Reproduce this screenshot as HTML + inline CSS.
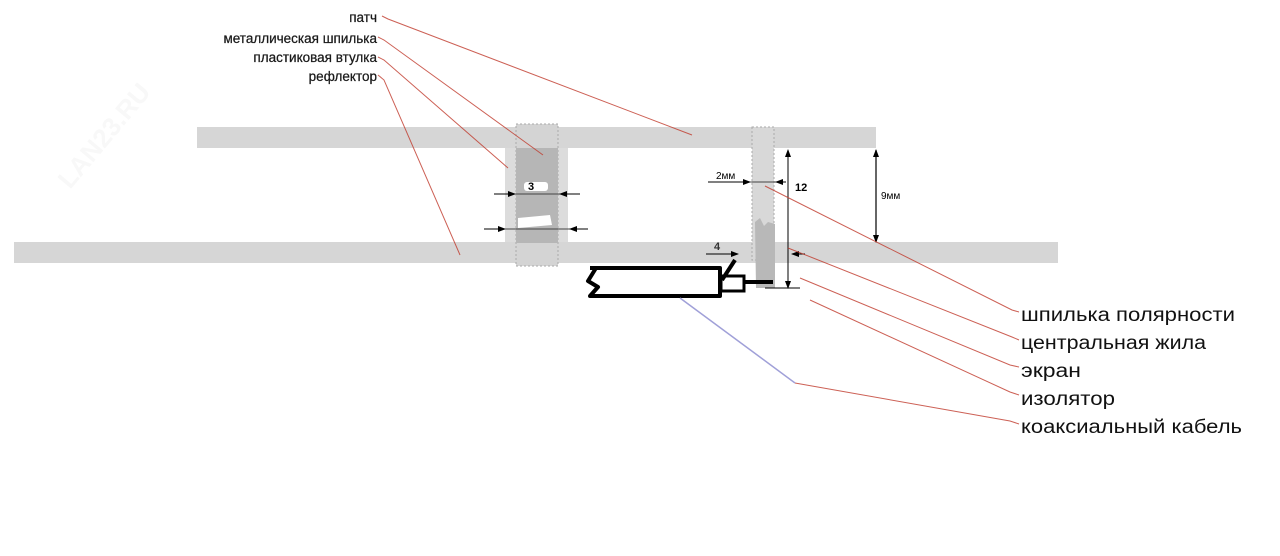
<!DOCTYPE html>
<html><head><meta charset="utf-8"><style>
html,body{margin:0;padding:0;background:#fff;}
svg{display:block;}
text{font-family:"Liberation Sans","DejaVu Sans",sans-serif;}
</style></head><body>
<svg width="1280" height="556" viewBox="0 0 1280 556" xmlns="http://www.w3.org/2000/svg">
<defs>
<marker id="ah" markerWidth="8" markerHeight="8" refX="7" refY="4" orient="auto" markerUnits="userSpaceOnUse"><path d="M0,1 L8,4 L0,7 Z" fill="#000"/></marker>
</defs>
<text x="70" y="190" transform="rotate(-50 70 190)" font-size="26" font-weight="bold" fill="#f8f8f8">LAN23.RU</text>
<!-- bars -->
<rect x="197" y="127" width="679" height="21" fill="#d6d6d6"/>
<rect x="14" y="242" width="1044" height="21" fill="#d6d6d6"/>
<!-- left bushing -->
<rect x="505" y="148" width="63" height="94" fill="#dcdcdc"/>
<rect x="516" y="124" width="42" height="142" fill="#d4d4d4" stroke="#aaa" stroke-dasharray="2,2" stroke-width="1"/>
<rect x="516" y="148" width="42" height="95" fill="#b6b6b6"/>
<rect x="524" y="182" width="24" height="9" rx="3" fill="#fff"/>
<path d="M518,218 L550,215 L552,225 L518,228Z" fill="#fff"/>
<text x="528" y="190" font-size="11" font-weight="bold">3</text>
<line x1="494" y1="194" x2="515" y2="194" stroke="#000" marker-end="url(#ah)"/>
<line x1="515" y1="194" x2="560" y2="194" stroke="#444"/>
<line x1="580" y1="194" x2="560" y2="194" stroke="#000" marker-end="url(#ah)"/>
<line x1="484" y1="229" x2="505" y2="229" stroke="#000" marker-end="url(#ah)"/>
<line x1="505" y1="229" x2="570" y2="229" stroke="#444"/>
<line x1="588" y1="229" x2="570" y2="229" stroke="#000" marker-end="url(#ah)"/>
<!-- right pin -->
<rect x="752" y="127" width="22" height="133" fill="#d8d8d8" stroke="#aaa" stroke-dasharray="2,2"/>
<path d="M755,222 L760,218 L764,226 L768,222 L775,224 L775,288 L756,288 Z" fill="#b8b8b8"/>
<line x1="708" y1="182" x2="750" y2="182" stroke="#000" marker-end="url(#ah)"/>
<line x1="750" y1="182" x2="776" y2="182" stroke="#444"/>
<line x1="786" y1="182" x2="776" y2="182" stroke="#000" marker-end="url(#ah)"/>
<text x="716" y="179" font-size="10">2мм</text>
<line x1="788" y1="218" x2="788" y2="150" stroke="#000" marker-end="url(#ah)"/>
<line x1="788" y1="218" x2="788" y2="288" stroke="#000" marker-end="url(#ah)"/>
<line x1="765" y1="288" x2="800" y2="288" stroke="#000"/>
<text x="795" y="191" font-size="11" font-weight="bold">12</text>
<line x1="876" y1="195" x2="876" y2="150" stroke="#000" marker-end="url(#ah)" stroke-width="1.2"/>
<line x1="876" y1="195" x2="876" y2="242" stroke="#000" marker-end="url(#ah)" stroke-width="1.2"/>
<text x="881" y="199" font-size="10">9мм</text>
<line x1="706" y1="254" x2="738" y2="254" stroke="#000" marker-end="url(#ah)"/>
<text x="714" y="250" font-size="11" font-weight="bold" fill="#333">4</text>
<line x1="805" y1="254" x2="792" y2="254" stroke="#000" marker-end="url(#ah)"/>
<!-- cable -->
<path d="M590,268 L720,268 L720,296 L590,296 L598,287 L588,281 L596,268" fill="#fff" stroke="#000" stroke-width="4" stroke-linejoin="round"/>
<rect x="721" y="276" width="23" height="15" fill="#fff" stroke="#000" stroke-width="3"/>
<line x1="744" y1="282" x2="773" y2="282" stroke="#000" stroke-width="4"/>
<line x1="722" y1="280" x2="735" y2="260" stroke="#000" stroke-width="4"/>
<!-- leader lines -->
<g stroke="#c0392b" stroke-width="1" fill="none" opacity="0.8">
<polyline points="382,16 388,19 692,135"/>
<polyline points="378,37 384,40 543,155"/>
<polyline points="378,57 384,60 508,168"/>
<polyline points="378,75 384,80 460,255"/>
<polyline points="1019,312 1012,310 765,186"/>
<polyline points="1019,340 1012,337 788,248"/>
<polyline points="1019,367 1010,365 800,278"/>
<polyline points="1019,395 1010,392 810,300"/>
<polyline points="1019,424 1010,421 795,383"/>
</g>
<line x1="795" y1="383" x2="680" y2="298" stroke="#a0a0d8" stroke-width="1.5"/>
<!-- labels -->
<g font-size="13.5" fill="#1a1a1a" text-anchor="end" stroke="#1a1a1a" stroke-width="0.25">
<text x="377" y="22">патч</text>
<text x="377" y="43">металлическая шпилька</text>
<text x="377" y="62">пластиковая втулка</text>
<text x="377" y="81">рефлектор</text>
</g>
<g font-size="19" fill="#111">
<text x="1021" y="321" textLength="214" lengthAdjust="spacingAndGlyphs">шпилька полярности</text>
<text x="1021" y="349" textLength="185" lengthAdjust="spacingAndGlyphs">центральная жила</text>
<text x="1021" y="377" textLength="60" lengthAdjust="spacingAndGlyphs">экран</text>
<text x="1021" y="405" textLength="94" lengthAdjust="spacingAndGlyphs">изолятор</text>
<text x="1021" y="433" textLength="221" lengthAdjust="spacingAndGlyphs">коаксиальный кабель</text>
</g>
</svg>
</body></html>
